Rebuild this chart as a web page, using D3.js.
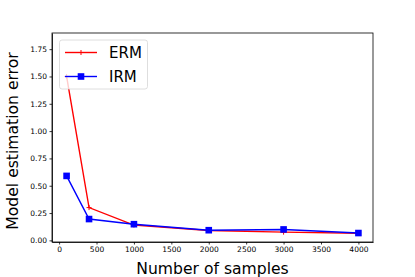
<!DOCTYPE html>
<meta charset="utf-8">
<style>
  body { margin: 0; background: #fff; }
  text { font-family: "DejaVu Sans", sans-serif; }
  .axis path, .axis line { stroke: #000; stroke-width: 0.8; }
  .axis text { font-size: 7.5px; fill: #000; }
</style>
<body></body>
<script src="https://d3js.org/d3.v7.min.js"></script>
<script>
// data
var samples = [100, 400, 1000, 2000, 3000, 4000];
var ermError = [1.50, 0.30, 0.14, 0.09, 0.075, 0.065];
var irmError = [0.59, 0.195, 0.148, 0.093, 0.10, 0.067];
var xTicks = [0, 500, 1000, 1500, 2000, 2500, 3000, 3500, 4000];
var yTicks = [0, 0.25, 0.5, 0.75, 1.0, 1.25, 1.5, 1.75];
var seriesNames = ['ERM', 'IRM'];
var seriesColors = ['#ff0000', '#0000ff'];

var width = 415, height = 277;
var margin = {top: 33, right: 42, bottom: 35, left: 52};

var svg = d3.select('body').append('svg')
    .attr('width', width)
    .attr('height', height);

var x = d3.scaleLinear().domain([-95, 4195])
    .range([margin.left, width - margin.right]);
var y = d3.scaleLinear().domain([-0.015, 1.898])
    .range([height - margin.bottom, margin.top]);

// axes
svg.append('g')
    .attr('class', 'axis')
    .attr('transform', 'translate(0,' + (height - margin.bottom) + ')')
    .call(d3.axisBottom(x).tickValues(xTicks).tickFormat(d3.format('d'))
        .tickSizeInner(2.5).tickSizeOuter(0).tickPadding(2.5));

svg.append('g')
    .attr('class', 'axis')
    .attr('transform', 'translate(' + margin.left + ',0)')
    .call(d3.axisLeft(y).tickValues(yTicks).tickFormat(d3.format('.2f'))
        .tickSizeInner(2.5).tickSizeOuter(0).tickPadding(2.5));

// top + right spines
svg.append('rect')
    .attr('x', margin.left)
    .attr('y', margin.top)
    .attr('width', width - margin.left - margin.right)
    .attr('height', height - margin.top - margin.bottom)
    .attr('fill', 'none')
    .attr('stroke', '#000')
    .attr('stroke-width', 0.8);

var series = [ermError, irmError];
var line = d3.line()
    .x(function(d, i) { return x(samples[i]); })
    .y(function(d) { return y(d); });

series.forEach(function(vals, k) {
  var g = svg.append('g');
  g.append('path')
    .datum(vals)
    .attr('fill', 'none')
    .attr('stroke', seriesColors[k])
    .attr('stroke-width', 1.4)
    .attr('d', line);
  if (k === 0) {
    g.selectAll('path.mk').data(vals).enter().append('path')
      .attr('class', 'mk')
      .attr('d', function(d, i) {
        var cx = x(samples[i]), cy = y(d);
        return 'M' + (cx - 2.5) + ',' + cy + 'H' + (cx + 2.5) + 'M' + cx + ',' + (cy - 2.5) + 'V' + (cy + 2.5);
      })
      .attr('stroke', seriesColors[k])
      .attr('stroke-width', 1);
  } else {
    g.selectAll('rect').data(vals).enter().append('rect')
      .attr('x', function(d, i) { return x(samples[i]) - 3.3; })
      .attr('y', function(d) { return y(d) - 3.3; })
      .attr('width', 6.6)
      .attr('height', 6.6)
      .attr('fill', seriesColors[k]);
  }
});

// legend
var legend = svg.append('g');
legend.append('rect')
  .attr('x', 59.5).attr('y', 40)
  .attr('width', 88).attr('height', 49)
  .attr('rx', 2.5)
  .attr('fill', 'rgba(255,255,255,0.8)')
  .attr('stroke', '#d6d6d6')
  .attr('stroke-width', 0.8);

seriesNames.forEach(function(name, k) {
  var ly = 52.5 + k * 24;
  legend.append('line')
    .attr('x1', 65).attr('x2', 97).attr('y1', ly).attr('y2', ly)
    .attr('stroke', seriesColors[k]).attr('stroke-width', 1.4);
  if (k === 0) {
    legend.append('line')
      .attr('x1', 81).attr('x2', 81).attr('y1', ly - 2.5).attr('y2', ly + 2.5)
      .attr('stroke', seriesColors[k]).attr('stroke-width', 1);
  } else {
    legend.append('rect')
      .attr('x', 77.7).attr('y', ly - 3.3).attr('width', 6.6).attr('height', 6.6)
      .attr('fill', seriesColors[k]);
  }
  legend.append('text')
    .attr('x', 109).attr('y', ly + 5.5)
    .style('font-size', '15px')
    .text(name);
});

// axis labels
svg.append('text')
  .attr('x', (margin.left + width - margin.right) / 2)
  .attr('y', 274)
  .attr('text-anchor', 'middle')
  .style('font-size', '15.6px')
  .text('Number of samples');

svg.append('text')
  .attr('transform', 'translate(17.5,141) rotate(-90)')
  .attr('text-anchor', 'middle')
  .style('font-size', '15.6px')
  .text('Model estimation error');
</script>
